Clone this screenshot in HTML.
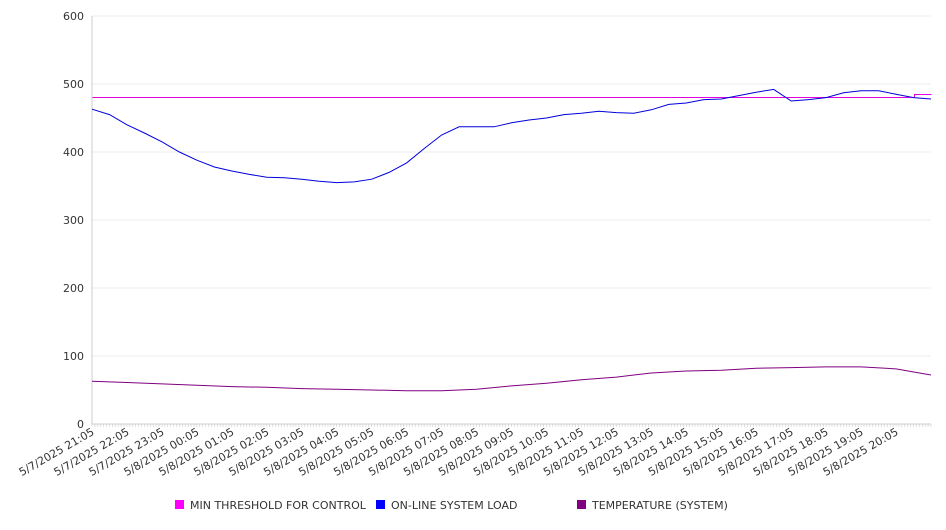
<!DOCTYPE html>
<html><head><meta charset="utf-8"><style>
body{margin:0;background:#fff;font-family:"DejaVu Sans","Liberation Sans",sans-serif}
svg text{font-family:"DejaVu Sans","Liberation Sans",sans-serif;fill:#333}
</style></head><body>
<svg id="chart" width="946" height="526" xmlns="http://www.w3.org/2000/svg"></svg>
<script>
const yTicks=[0,100,200,300,400,500,600];
const xLabels=["5/7/2025 21:05","5/7/2025 22:05","5/7/2025 23:05","5/8/2025 00:05","5/8/2025 01:05","5/8/2025 02:05","5/8/2025 03:05","5/8/2025 04:05","5/8/2025 05:05","5/8/2025 06:05","5/8/2025 07:05","5/8/2025 08:05","5/8/2025 09:05","5/8/2025 10:05","5/8/2025 11:05","5/8/2025 12:05","5/8/2025 13:05","5/8/2025 14:05","5/8/2025 15:05","5/8/2025 16:05","5/8/2025 17:05","5/8/2025 18:05","5/8/2025 19:05","5/8/2025 20:05"];
const loadHours=[0,0.5,1,1.5,2,2.5,3,3.5,4,4.5,5,5.5,6,6.5,7,7.5,8,8.5,9,9.5,10,10.5,11,11.5,12,12.5,13,13.5,14,14.5,15,15.5,16,16.5,17,17.5,18,18.5,19,19.5,20,20.5,21,21.5,22,22.5,23,23.5,24];
const loadValues=[463,455,440,428,415,400,388,378,372,367,363,362,360,357,355,356,360,370,384,405,425,437,437,437,443,447,450,455,457,460,458,457,462,470,472,477,478,483,488,492,475,477,480,487,490,490,485,480,478];
const tempHours=[0,1,2,3,4,5,6,7,8,9,10,11,12,13,14,15,16,17,18,19,20,21,22,23,24];
const tempValues=[63,61,59,57,55,54,52,51,50,49,49,51,56,60,65,69,75,78,79,82,83,84,84,81,72];
const threshHours=[0,23.5,23.5,24];
const threshValues=[481,481,486,486];
const X0=92,X1=931,Y0=424,Y1=16,HMAX=24,VMAX=600;
const sx=h=>X0+(X1-X0)*h/HMAX, sy=v=>Y0-(Y0-Y1)*v/VMAX;
const svg=document.getElementById('chart'),NS="http://www.w3.org/2000/svg";
function mk(t,a,p){const e=document.createElementNS(NS,t);for(const k in a)e.setAttribute(k,a[k]);(p||svg).appendChild(e);return e;}
yTicks.forEach(v=>{
 const g=mk('line',{x1:X0,x2:X1,y1:sy(v),y2:sy(v),stroke:v?'#ececec':'#ccc'});
 
 
 const t=mk('text',{x:84,y:sy(v)+4,'text-anchor':'end','font-size':11});t.textContent=v;
 
 
});
mk('line',{x1:X0,x2:X0,y1:Y1,y2:Y0,stroke:'#ccc'});
for(let i=0;i<=288;i++){const x=sx(i/12);mk('line',{x1:x,x2:x,y1:Y0,y2:Y0+3,stroke:'#ccc','stroke-width':0.6});}
xLabels.forEach((l,i)=>{const x=sx(i)+3,y=Y0+10;
 const t=mk('text',{x:x,y:y,'text-anchor':'end','font-size':11,transform:`rotate(-30 ${x} ${y})`});t.textContent=l;
 
 
});
function line(hs,vs,c,name,snap){const d=hs.map((h,i)=>{let x=sx(h),y=sy(vs[i]);if(snap){x=Math.round(x)+0.5;y=Math.round(y)+0.5;}return (i?'L':'M')+x.toFixed(1)+','+y.toFixed(1);}).join('');
 const p=mk('path',{d:d,fill:'none',stroke:c,'stroke-width':1});
 
 }
line(threshHours,threshValues,'#e000e0','threshold-line',true);
line(loadHours,loadValues,'#0000dd','system-load-line');
line(tempHours,tempValues,'#800080','temperature-line');
const leg=[["MIN THRESHOLD FOR CONTROL","#ff00ff",175],["ON-LINE SYSTEM LOAD","#0000ff",376],["TEMPERATURE (SYSTEM)","#800080",577]];
leg.forEach(([n,c,x])=>{const g=mk('g',{});
 
 
 mk('rect',{x:x,y:500,width:9,height:9,fill:c},g);
 const t=mk('text',{x:x+15,y:509,'font-size':11},g);t.textContent=n;});
</script>
</body></html>
